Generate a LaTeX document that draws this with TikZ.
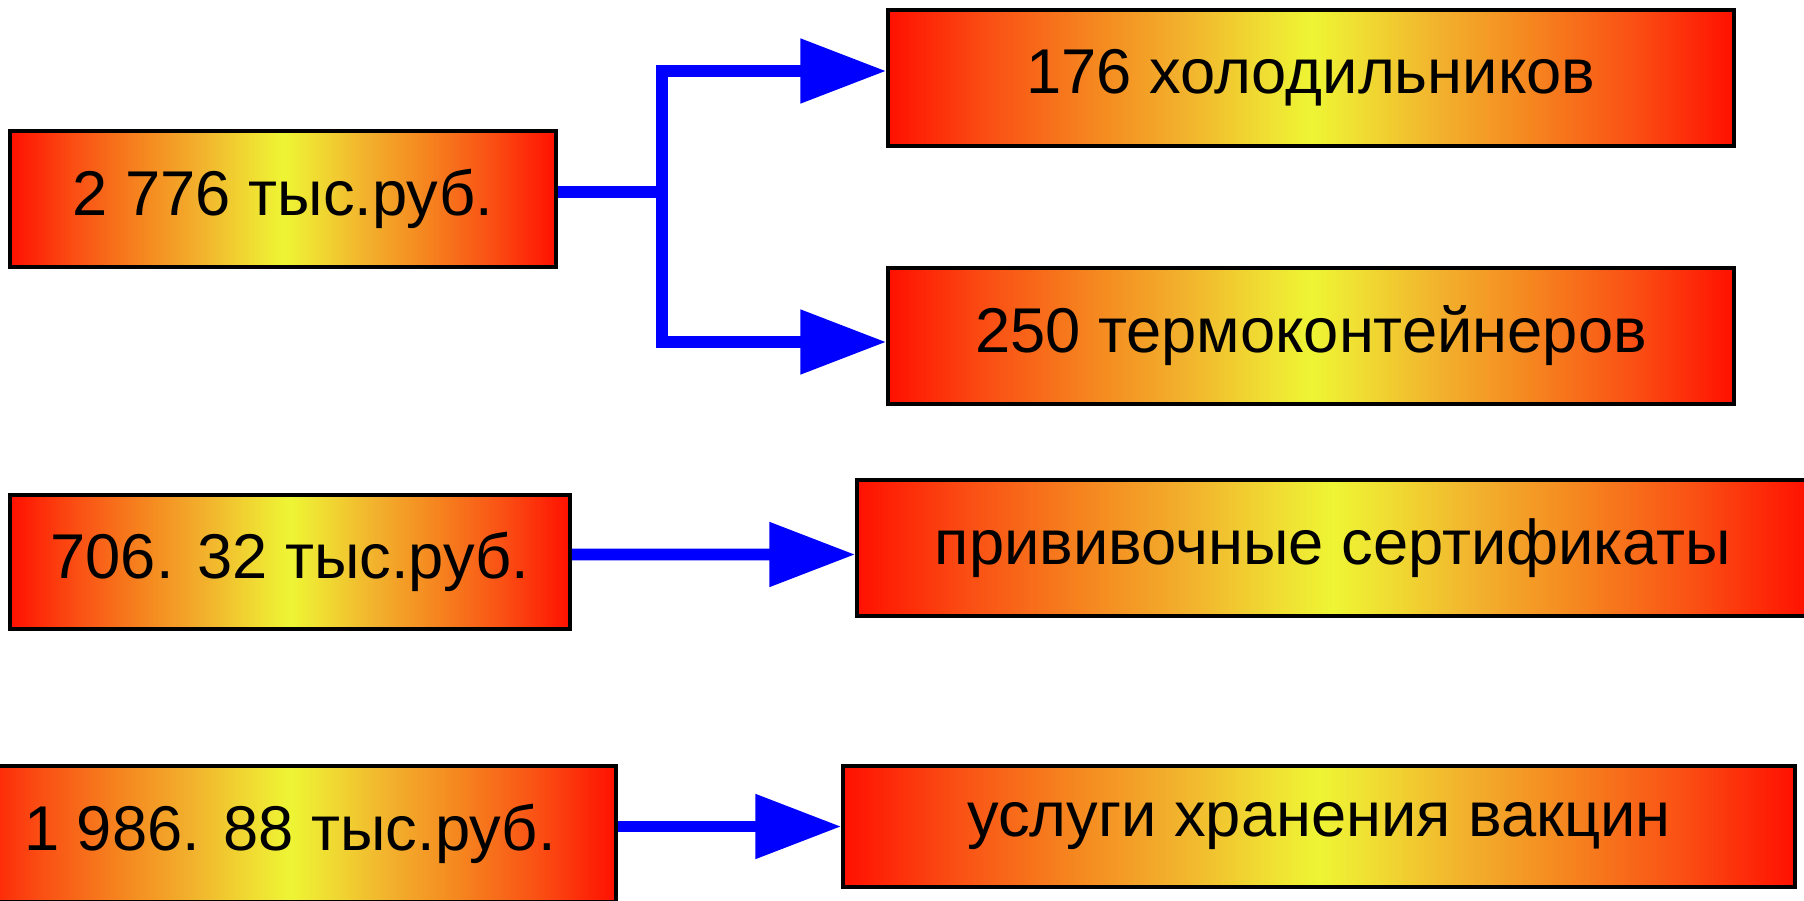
\documentclass[tikz,border=0pt]{standalone}
\usepackage{fontspec}
\setmainfont{Liberation Sans}
\usetikzlibrary{arrows.meta}

\definecolor{linkblue}{RGB}{0,0,255}
\definecolor{shadeA}{RGB}{255,16,0}
\definecolor{shadeB}{RGB}{250,80,20}
\definecolor{shadeC}{RGB}{245,138,32}
\definecolor{shadeD}{RGB}{242,178,45}
\definecolor{shadeE}{RGB}{240,220,50}
\definecolor{shadeF}{RGB}{238,245,52}
\pgfdeclarehorizontalshading{boxshade}{100bp}{color(0bp)=(shadeA);
  color(25bp)=(shadeA); color(31bp)=(shadeB); color(37.5bp)=(shadeC);
  color(42.5bp)=(shadeD); color(47bp)=(shadeE); color(50bp)=(shadeF);
  color(53bp)=(shadeE); color(57.5bp)=(shadeD); color(62.5bp)=(shadeC);
  color(69bp)=(shadeB); color(75bp)=(shadeA); color(100bp)=(shadeA)}

\begin{document}
\begin{tikzpicture}
        [every node/.style={rectangle,draw=black,line width=1pt,shading=boxshade,
          minimum height=1.36cm,inner sep=0pt,font=\fontsize{18}{21}\selectfont},
         link/.style={draw=linkblue,line width=3.4pt,
          -{Triangle[length=0.86cm,width=0.62cm]}}]
        \useasboundingbox (0,0) rectangle (18.04,9);

        \node[minimum width=5.46cm] (sum1) at (2.83, 7.01) {2 776 тыс.руб.};
        \node[minimum width=8.46cm] (fridge) at (13.11, 8.22) {176 холодильников};
        \node[minimum width=8.46cm] (thermo) at (13.11, 5.64) {250 термоконтейнеров};

        \node[minimum width=5.60cm,minimum height=1.34cm] (sum2) at (2.90, 3.38) {706. 32 тыс.руб.};
        \node[minimum width=9.52cm] (cert) at (13.33, 3.52) {прививочные сертификаты};

        \node[minimum width=6.52cm] (sum3) at (2.90, 0.66) {1 986. 88 тыс.руб.};
        \node[minimum width=9.52cm,minimum height=1.21cm] (store) at (13.19, 0.735) {услуги хранения вакцин};

        \coordinate (fork) at (6.62, 7.08);
        \draw[draw=linkblue,line width=3.4pt] (sum1.east |- fork) -- (fork);
        \draw[link] (fork) |- ([yshift=0.07cm]fridge.west);
        \draw[link] (fork) |- ([yshift=-0.06cm]thermo.west);
        \draw[link] (sum2.east |- 0,3.455) -- ([yshift=-0.065cm]cert.west);
        \draw[link] (sum3.east |- store.west) -- (store.west);
    \end{tikzpicture}
\end{document}
